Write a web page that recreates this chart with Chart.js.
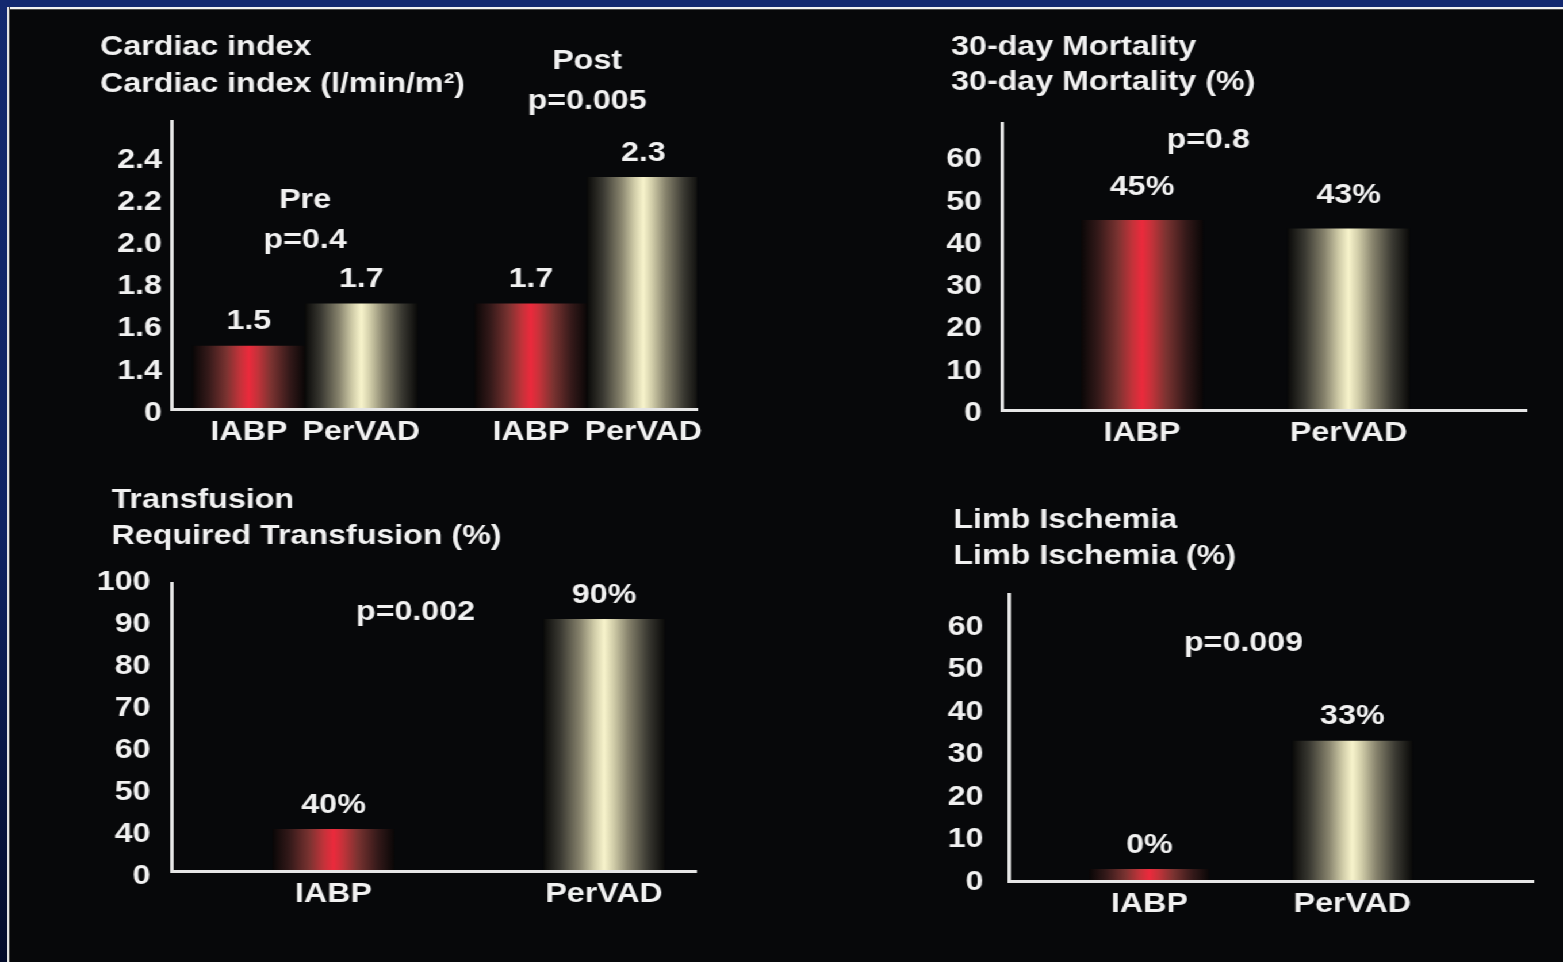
<!DOCTYPE html>
<html lang="en">
<head>
<meta charset="utf-8">
<title>IABP vs PerVAD</title>
<script src="https://cdn.jsdelivr.net/npm/chart.js@4.4.1/dist/chart.umd.min.js"></script>
<style>
  html, body { margin: 0; padding: 0; background: #07080a; overflow: hidden; }
  #page { position: relative; width: 1563px; height: 962px; background: #07080a; overflow: hidden; }
  /* the slide is drawn at 1359px wide and widened to 1563px */
  #stage { position: absolute; left: 0; top: 0; width: 1359px; height: 962px;
           transform: scaleX(1.1501); transform-origin: 0 0; }
  #stage canvas { position: absolute; }
  .band-top { position: absolute; left: 0; top: 0; width: 1563px; height: 7px; background: #12286f; }
  .band-left { position: absolute; left: 0; top: 0; width: 7px; height: 962px;
               background: linear-gradient(180deg, #13296f 0%, #0f2363 55%, #030b2a 100%); }
  .rule-top { position: absolute; left: 7px; top: 7px; width: 1556px; height: 2px;
              background: #f2f2f2; border-bottom: 1px solid #4a4a4a; }
  .rule-left { position: absolute; left: 7px; top: 7px; width: 2px; height: 955px;
               background: #e4e4e4; border-right: 1px solid #4a4a4a; }
</style>
</head>
<body>
<div id="page">
  <div id="stage">
    <canvas id="cardiac"></canvas>
    <canvas id="mortality"></canvas>
    <canvas id="transfusion"></canvas>
    <canvas id="ischemia"></canvas>
  </div>
  <div class="band-top"></div>
  <div class="band-left"></div>
  <div class="rule-top"></div>
  <div class="rule-left"></div>
</div>
<script>
// ---------------- data ----------------
const ciPhases = ['Pre', 'Post'];
const ciIABP = [1.5, 1.7];
const ciPerVAD = [1.7, 2.3];
const ciTicks = [0, 1.4, 1.6, 1.8, 2.0, 2.2, 2.4];
const ciTickLabels = ['0', '1.4', '1.6', '1.8', '2.0', '2.2', '2.4'];
const ciPValues = ['p=0.4', 'p=0.005'];

const devices = ['IABP', 'PerVAD'];

const mortality = [45, 43];
const mortalityTicks = [0, 10, 20, 30, 40, 50, 60];
const mortalityP = 'p=0.8';

const transfusion = [40, 90];
const transfusionTicks = [0, 40, 50, 60, 70, 80, 90, 100];
const transfusionP = 'p=0.002';

const ischemia = [0, 33];
const ischemiaTicks = [0, 10, 20, 30, 40, 50, 60];
const ischemiaP = 'p=0.009';

// ---------------- look ----------------
const RED = '#ec2a3c';
const CREAM = '#f8f4cc';
const RAMPS = {
  [RED]:   ['#0a0707', '#351a1a', '#7a3331', '#c3333a', RED],
  [CREAM]: ['#0a0a09', '#3a3932', '#86826c', '#d0cca8', CREAM]
};
const RAMP_AT = [0, 0.14, 0.3, 0.42, 0.5];
const TEXT = '#f1f1f1';
const AXIS = '#e6e6e6';
const FONT = '"Liberation Sans", Arial, Helvetica, sans-serif';
const GUTTER = 24;   // room left of the title edge for the tick labels

// Value axis whose ticks are evenly spaced even where the steps between them differ
class SegmentedScale extends Chart.LinearScale {
  static id = 'segmented';
  static defaults = {};
  toSlot(v) {
    const s = this.options.stops, n = s.length;
    if (v <= s[0]) return (v - s[0]) / (s[1] - s[0]);
    for (let i = 1; i < n; i++) {
      if (v <= s[i]) return i - 1 + (v - s[i - 1]) / (s[i] - s[i - 1]);
    }
    return n - 1 + (v - s[n - 1]) / (s[n - 1] - s[n - 2]);
  }
  fromSlot(t) {
    const s = this.options.stops, n = s.length;
    const i = Math.max(0, Math.min(n - 2, Math.floor(t)));
    return s[i] + (t - i) * (s[i + 1] - s[i]);
  }
  slotMax() { return this.options.stops.length - 1 + (this.options.headroom || 0); }
  determineDataLimits() {
    this.min = this.options.stops[0];
    this.max = this.fromSlot(this.slotMax());
  }
  buildTicks() { return this.options.stops.map(v => ({ value: v })); }
  getPixelForValue(v) { return this.getPixelForDecimal(this.toSlot(v) / this.slotMax()); }
  getValueForPixel(p) { return this.fromSlot(this.getDecimalForPixel(p) * this.slotMax()); }
  // tick labels may run past the axis box into the gutter
  _computeLabelArea() { return null; }
}
Chart.register(SegmentedScale);

// Shaded bars, value labels, captions under the bars and p-value notes
function decor(spec) {
  return {
    id: 'decor',
    beforeDatasetsDraw(chart) {
      const ctx = chart.ctx;
      chart.data.datasets.forEach((ds, di) => {
        chart.getDatasetMeta(di).data.forEach((bar, i) => {
          const base = Array.isArray(ds.backgroundColor) ? ds.backgroundColor[i] : ds.backgroundColor;
          const ramp = RAMPS[base];
          if (!ramp) return;
          const l = bar.x - bar.width / 2, r = bar.x + bar.width / 2;
          const g = ctx.createLinearGradient(l, 0, r, 0);
          RAMP_AT.forEach((p, k) => {
            g.addColorStop(p, ramp[k]);
            g.addColorStop(1 - p, ramp[k]);
          });
          bar.options.backgroundColor = g;
        });
      });
    },
    afterDatasetsDraw(chart) {
      const ctx = chart.ctx, area = chart.chartArea;
      const xs = chart.scales.x, ys = chart.scales.y;
      ctx.save();
      ctx.font = 'bold 28px ' + FONT;
      ctx.fillStyle = TEXT;
      ctx.textAlign = 'center';
      ctx.textBaseline = 'middle';
      chart.data.datasets.forEach((ds, di) => {
        chart.getDatasetMeta(di).data.forEach((bar, i) => {
          const top = Math.min(bar.y, bar.base);
          ctx.fillText(String(ds.data[i].y) + spec.unit, bar.x, top - spec.valueGap);
          ctx.fillText(spec.caption(ds, i), bar.x, area.bottom + 23);
        });
      });
      spec.notes.forEach(n => {
        const px = xs.getPixelForValue(n.x);
        const py = ys.getPixelForValue(n.y);
        n.lines.forEach((t, k) => ctx.fillText(t, px, py - (n.lines.length - 1 - k) * 40));
      });
      ctx.restore();
    }
  };
}

// box: title edge (x, y), size and plot frame measured from that edge
function panel(id, box, spec) {
  const cv = document.getElementById(id);
  const w = box.w + GUTTER;
  cv.width = w; cv.height = box.h;
  cv.style.left = (box.x - GUTTER) + 'px'; cv.style.top = box.y + 'px';
  cv.style.width = w + 'px'; cv.style.height = box.h + 'px';
  const a = box.area;
  const padTop = spec.titleMid - spec.titleLead / 2;
  const axisLine = { display: true, color: AXIS, width: 3, z: 1 };
  return new Chart(cv, {
    type: 'bar',
    data: { datasets: spec.datasets },
    options: {
      responsive: false,
      animation: false,
      devicePixelRatio: 1,
      layout: { padding: { left: GUTTER, top: 0, right: box.w - a.r, bottom: 0 } },
      plugins: {
        legend: { display: false },
        tooltip: { enabled: false },
        title: {
          display: true, text: spec.title, align: 'start', color: TEXT,
          font: { family: FONT, size: 28, weight: 'bold', lineHeight: spec.titleLead / 28 },
          padding: { top: padTop, bottom: a.t - padTop - 2 * spec.titleLead }
        }
      },
      datasets: {
        bar: { barPercentage: 1, categoryPercentage: spec.catPct, borderWidth: 0, minBarLength: spec.minBar || 0 }
      },
      scales: {
        x: {
          type: 'linear', position: 'bottom', min: spec.xMin, max: spec.xMax, offset: false,
          grid: { display: false, drawTicks: false },
          border: axisLine,
          ticks: { display: false },
          afterBuildTicks: s => { s.ticks = spec.slots.map((_, i) => ({ value: i })); },
          afterFit: s => { s.height = box.h - a.b; }
        },
        y: {
          type: 'segmented', position: 'left', stops: spec.stops, headroom: spec.headroom,
          grid: { display: false, drawTicks: false },
          border: axisLine,
          ticks: {
            autoSkip: false, padding: spec.tickPad, labelOffset: spec.tickDrop, color: TEXT,
            font: { family: FONT, size: 28, weight: 'bold' },
            callback: (v, i) => spec.tickLabels[i]
          },
          afterFit: s => { s.width = a.l; }
        }
      }
    },
    plugins: [decor(spec)]
  });
}

const points = arr => arr.map((v, i) => ({ x: i, y: v }));

// Cardiac index, before and after support
panel('cardiac',
  { x: 86.96, y: 0, w: 540, h: 470, area: { l: 62.61, t: 121, r: 519.13, b: 409 } },
  {
    title: ['Cardiac index', 'Cardiac index (l/min/m\u00B2)'],
    titleMid: 47.5, titleLead: 36.6,
    datasets: [
      { label: 'IABP', data: points(ciIABP), backgroundColor: ciIABP.map(() => RED) },
      { label: 'PerVAD', data: points(ciPerVAD), backgroundColor: ciPerVAD.map(() => CREAM) }
    ],
    slots: ciPhases,
    caption: (ds) => ds.label,
    stops: ciTicks, tickLabels: ciTickLabels, headroom: 0.83, tickPad: 8.7, tickDrop: 4,
    xMin: -0.4716, xMax: 1.390, catPct: 0.797,
    unit: '', valueGap: 24,
    notes: [
      { lines: [ciPhases[0], ciPValues[0]], x: 0, y: 2.0 },
      { lines: [ciPhases[1], ciPValues[1]], x: 1, y: 2.66 }
    ]
  });

// 30-day mortality
panel('mortality',
  { x: 826.96, y: 0, w: 525, h: 470, area: { l: 44.34, t: 123, r: 500.84, b: 410 } },
  {
    title: ['30-day Mortality', '30-day Mortality (%)'],
    titleMid: 47.5, titleLead: 34.5,
    datasets: [{ label: 'Mortality', data: points(mortality), backgroundColor: [RED, CREAM] }],
    slots: devices,
    caption: (ds, i) => devices[i],
    stops: mortalityTicks, tickLabels: mortalityTicks.map(String), headroom: 0.80, tickPad: 17.4, tickDrop: 3,
    xMin: -0.6776, xMax: 1.864, catPct: 0.59,
    unit: '%', valueGap: 33,
    notes: [{ lines: [mortalityP], x: 0.32, y: 64.0 }]
  });

// Required transfusion
panel('transfusion',
  { x: 97.39, y: 460, w: 530, h: 480, area: { l: 52.18, t: 123, r: 508.7, b: 411 } },
  {
    title: ['Transfusion', 'Required Transfusion (%)'],
    titleMid: 40.5, titleLead: 36,
    datasets: [{ label: 'Transfusion', data: points(transfusion), backgroundColor: [RED, CREAM] }],
    slots: devices,
    caption: (ds, i) => devices[i],
    stops: transfusionTicks, tickLabels: transfusionTicks.map(String), headroom: -0.143, tickPad: 18.3, tickDrop: 5,
    xMin: -0.5988, xMax: 1.342, catPct: 0.45,
    unit: '%', valueGap: 24,
    notes: [{ lines: [transfusionP], x: 0.303, y: 91.6 }]
  });

// Limb ischemia
panel('ischemia',
  { x: 828.7, y: 470, w: 525, h: 480, area: { l: 48.7, t: 124, r: 504.3, b: 411 } },
  {
    title: ['Limb Ischemia', 'Limb Ischemia (%)'],
    titleMid: 50.5, titleLead: 35.5,
    datasets: [{ label: 'Limb Ischemia', data: points(ischemia), backgroundColor: [RED, CREAM] }],
    slots: devices,
    caption: (ds, i) => devices[i],
    stops: ischemiaTicks, tickLabels: ischemiaTicks.map(String), headroom: 0.753, tickPad: 22.6, tickDrop: 1,
    xMin: -0.6895, xMax: 1.892, catPct: 0.591, minBar: 12,
    unit: '%', valueGap: 24,
    notes: [{ lines: [ischemiaP], x: 0.4635, y: 56.0 }]
  });
</script>
</body>
</html>
